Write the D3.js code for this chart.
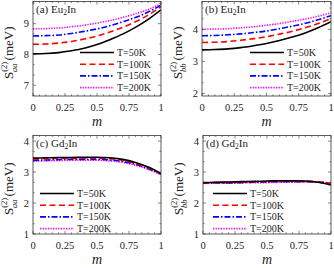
<!DOCTYPE html>
<html>
<head>
<meta charset="utf-8">
<script src="https://cdn.jsdelivr.net/npm/d3@7"></script>
<style>
  body { margin: 0; background: #fff; }
  text { font-family: "Liberation Serif", "DejaVu Serif", serif; fill: #222; }
</style>
</head>
<body>
<div id="chart"></div>
<script>
// m values shared by every curve
const mVals = [0, 0.1, 0.2, 0.3, 0.4, 0.5, 0.6, 0.7, 0.8, 0.9, 1.0];
const temps = ['T=50K', 'T=100K', 'T=150K', 'T=200K'];

// (a) Eu2In, S_aa
const aT50  = [8.02, 8.03, 8.06, 8.12, 8.20, 8.32, 8.48, 8.66, 8.88, 9.14, 9.45];
const aT100 = [8.33, 8.34, 8.37, 8.42, 8.50, 8.60, 8.73, 8.88, 9.06, 9.28, 9.55];
const aT150 = [8.60, 8.61, 8.63, 8.68, 8.75, 8.83, 8.93, 9.06, 9.20, 9.38, 9.60];
const aT200 = [8.83, 8.84, 8.86, 8.90, 8.95, 9.02, 9.10, 9.20, 9.32, 9.46, 9.65];
// (b) Eu2In, S_bb
const bT50  = [3.36, 3.37, 3.39, 3.43, 3.49, 3.56, 3.65, 3.76, 3.89, 4.05, 4.24];
const bT100 = [3.59, 3.60, 3.62, 3.66, 3.71, 3.77, 3.85, 3.94, 4.05, 4.18, 4.34];
const bT150 = [3.80, 3.81, 3.83, 3.86, 3.90, 3.95, 4.02, 4.10, 4.19, 4.30, 4.43];
const bT200 = [4.00, 4.01, 4.02, 4.05, 4.08, 4.13, 4.18, 4.25, 4.32, 4.41, 4.52];
// (c) Gd2In, S_aa
const cT50  = [3.45, 3.46, 3.47, 3.47, 3.48, 3.48, 3.46, 3.41, 3.31, 3.16, 2.95];
const cT100 = [3.42, 3.43, 3.44, 3.44, 3.45, 3.45, 3.43, 3.38, 3.28, 3.14, 2.94];
const cT150 = [3.38, 3.39, 3.40, 3.41, 3.41, 3.41, 3.39, 3.34, 3.25, 3.11, 2.93];
const cT200 = [3.35, 3.36, 3.37, 3.38, 3.38, 3.38, 3.36, 3.31, 3.22, 3.09, 2.92];
// (d) Gd2In, S_bb
const dT50  = [2.66, 2.67, 2.68, 2.69, 2.70, 2.71, 2.72, 2.72, 2.71, 2.67, 2.58];
const dT100 = [2.65, 2.66, 2.66, 2.67, 2.68, 2.69, 2.70, 2.70, 2.70, 2.68, 2.63];
const dT150 = [2.64, 2.65, 2.65, 2.66, 2.67, 2.68, 2.69, 2.69, 2.69, 2.68, 2.64];
const dT200 = [2.63, 2.64, 2.64, 2.65, 2.66, 2.66, 2.67, 2.68, 2.68, 2.67, 2.64];

const xTicks = [0, 0.25, 0.5, 0.75, 1];
const xTickLabels = ['0', '0.25', '0.5', '0.75', '1'];

const styles = [
  {color: '#000000', dash: null},
  {color: '#ff0000', dash: '6,3.5'},
  {color: '#0000ff', dash: '6,2,1.5,2'},
  {color: '#ff00ff', dash: '1.3,1.3'}
];

const panels = [
  {tag: '(a)', el: 'Eu', sub: 'aa', series: [aT50, aT100, aT150, aT200],
   yDomain: [6.65, 9.72], yTicks: [7, 8, 9],
   frame: {x0: 33, x1: 161, y0: 1.5, y1: 96}, legend: {x: 80, y: 52.5}},
  {tag: '(b)', el: 'Eu', sub: 'bb', series: [bT50, bT100, bT150, bT200],
   yDomain: [1.92, 4.87], yTicks: [2, 3, 4],
   frame: {x0: 202, x1: 331, y0: 1.5, y1: 96}, legend: {x: 250, y: 52.5}},
  {tag: '(c)', el: 'Gd', sub: 'aa', series: [cT50, cT100, cT150, cT200],
   yDomain: [1, 4.18], yTicks: [1, 2, 3, 4],
   frame: {x0: 33, x1: 161, y0: 135.5, y1: 234}, legend: {x: 40, y: 193.5}},
  {tag: '(d)', el: 'Gd', sub: 'bb', series: [dT50, dT100, dT150, dT200],
   yDomain: [1, 4.18], yTicks: [1, 2, 3, 4],
   frame: {x0: 203, x1: 331, y0: 135.5, y1: 234}, legend: {x: 213, y: 193.5}}
];

const svg = d3.select('#chart').append('svg')
  .attr('width', 334).attr('height', 268);

panels.forEach(p => {
  const f = p.frame;
  const x = d3.scaleLinear().domain([0, 1]).range([f.x0, f.x1]);
  const y = d3.scaleLinear().domain(p.yDomain).range([f.y1, f.y0]);
  const g = svg.append('g');

  // clip for curves
  const cid = 'clip' + p.tag.replace(/[()]/g, '');
  svg.append('clipPath').attr('id', cid).append('rect')
    .attr('x', f.x0).attr('y', f.y0)
    .attr('width', f.x1 - f.x0).attr('height', f.y1 - f.y0);

  const line = d3.line().x((d, i) => x(mVals[i])).y(d => y(d))
    .curve(d3.curveMonotoneX);

  // draw lower temps last so black sits on top like in the figure
  g.append('g').attr('clip-path', `url(#${cid})`)
    .selectAll('path')
    .data(p.series.map((s, i) => ({s, i})).reverse())
    .join('path')
      .attr('d', d => line(d.s))
      .attr('fill', 'none')
      .attr('stroke', d => styles[d.i].color)
      .attr('stroke-width', 1.6)
      .attr('stroke-dasharray', d => styles[d.i].dash);

  // ticks, mirrored, pointing inward
  const xMinor = d3.range(0, 1.0001, 0.05);
  const yMinor = d3.range(Math.ceil(p.yDomain[0] * 3) / 3, p.yDomain[1], 1 / 3);
  const tk = g.append('g').attr('stroke', '#333').attr('stroke-width', 0.6);
  xMinor.forEach(v => {
    const major = xTicks.some(t => Math.abs(t - v) < 1e-6);
    const L = major ? 3 : 1.6;
    tk.append('line').attr('x1', x(v)).attr('x2', x(v)).attr('y1', f.y1).attr('y2', f.y1 - L);
    tk.append('line').attr('x1', x(v)).attr('x2', x(v)).attr('y1', f.y0).attr('y2', f.y0 + L);
  });
  yMinor.forEach(v => {
    const major = p.yTicks.some(t => Math.abs(t - v) < 1e-6);
    const L = major ? 3 : 1.6;
    tk.append('line').attr('y1', y(v)).attr('y2', y(v)).attr('x1', f.x0).attr('x2', f.x0 + L);
    tk.append('line').attr('y1', y(v)).attr('y2', y(v)).attr('x1', f.x1).attr('x2', f.x1 - L);
  });

  // frame
  g.append('rect')
    .attr('x', f.x0).attr('y', f.y0)
    .attr('width', f.x1 - f.x0).attr('height', f.y1 - f.y0)
    .attr('fill', 'none').attr('stroke', '#333').attr('stroke-width', 0.8);

  // tick labels
  g.selectAll('.xl').data(xTicks).join('text')
    .attr('x', d => x(d)).attr('y', f.y1 + 15)
    .attr('text-anchor', 'middle').attr('font-size', 10.5)
    .text((d, i) => xTickLabels[i]);
  g.selectAll('.yl').data(p.yTicks).join('text')
    .attr('x', f.x0 - 4).attr('y', d => y(d) + 3.6)
    .attr('text-anchor', 'end').attr('font-size', 10.5)
    .text(d => d);

  // x label
  g.append('text')
    .attr('x', (f.x0 + f.x1) / 2).attr('y', f.y1 + 30)
    .attr('text-anchor', 'middle').attr('font-size', 14)
    .attr('font-style', 'italic').text('m');

  // y label
  const yl = g.append('text')
    .attr('transform', `translate(${f.x0 - 20},${(f.y0 + f.y1) / 2 + 4}) rotate(-90)`)
    .attr('text-anchor', 'middle').attr('font-size', 13);
  yl.append('tspan').text('S');
  yl.append('tspan').attr('font-size', 8.5).attr('dy', -6).text('(2)');
  yl.append('tspan').attr('font-size', 8.5).attr('font-style', 'italic')
    .attr('dx', -10).attr('dy', 10).text(p.sub);
  yl.append('tspan').attr('dy', -4).attr('dx', 3).text('(meV)');

  // panel title
  const t = g.append('text')
    .attr('x', f.x0 + 3).attr('y', f.y0 + 11).attr('font-size', 11);
  t.append('tspan').text(p.tag + ' ' + p.el);
  t.append('tspan').attr('font-size', 7.5).attr('dy', 2.5).text('2');
  t.append('tspan').attr('dy', -2.5).text('In');

  // legend
  const lg = g.append('g');
  temps.forEach((name, i) => {
    const yy = p.legend.y + i * 11.7;
    lg.append('line')
      .attr('x1', p.legend.x).attr('x2', p.legend.x + 34)
      .attr('y1', yy).attr('y2', yy)
      .attr('stroke', styles[i].color).attr('stroke-width', 1.6)
      .attr('stroke-dasharray', styles[i].dash);
    lg.append('text')
      .attr('x', p.legend.x + 37).attr('y', yy + 3.5)
      .attr('font-size', 10).text(name);
  });
});
</script>
</body>
</html>
